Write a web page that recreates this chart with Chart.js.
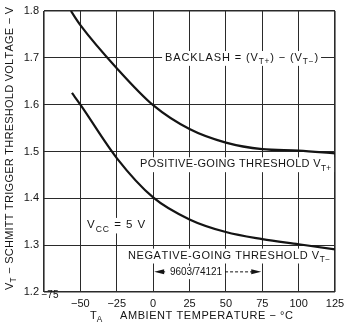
<!DOCTYPE html>
<html>
<head>
<meta charset="utf-8">
<script src="https://cdn.jsdelivr.net/npm/chart.js@4.4.1/dist/chart.umd.min.js"></script>
<style>
    html, body { margin: 0; padding: 0; background: #fff; }
    canvas { display: block; }
</style>
</head>
<body>
<canvas id="chart" width="345" height="323"></canvas>
<script>
// ---------- data ----------
const tempPos = [-56.5, -50, -25, 0, 25, 50, 75, 100, 125];
const vPos    = [1.800, 1.770, 1.678, 1.599, 1.548, 1.519, 1.505, 1.502, 1.496];

const tempNeg = [-55.8, -50, -25, 0, 25, 50, 75, 100, 125];
const vNeg    = [1.625, 1.600, 1.486, 1.402, 1.355, 1.328, 1.313, 1.302, 1.291];

const xTicks = [-75, -50, -25, 0, 25, 50, 75, 100, 125];
const yTicks = [1.2, 1.3, 1.4, 1.5, 1.6, 1.7, 1.8];

const FONT = "'Liberation Sans', Arial, sans-serif";
const INK = '#141414';

// ---------- text helpers (text with subscripts, spread to a width) ----------
function fontOf(size) { return size + 'px ' + FONT; }

function measureParts(ctx, parts, size) {
    let w = 0, n = 0;
    parts.forEach(p => {
        ctx.font = fontOf(p.sub ? size * 0.75 : size);
        for (const ch of p.t) { w += ctx.measureText(ch).width; n++; }
    });
    return { w, n };
}

function drawRich(ctx, parts, x, y, o) {
    const size = o.size || 11;
    const m = measureParts(ctx, parts, size);
    const total = o.width || m.w;
    const ls = o.width ? (o.width - m.w) / Math.max(1, m.n - 1) : 0;
    let x0 = x;
    if (o.align === 'right') x0 = x - total;
    if (o.align === 'center') x0 = x - total / 2;
    if (o.bg) {
        ctx.fillStyle = '#fff';
        ctx.fillRect(x0 - 3, y - size * 0.62, total + 6, size * 1.35);
    }
    ctx.fillStyle = INK;
    ctx.textAlign = 'left';
    ctx.textBaseline = 'middle';
    let cx = x0;
    parts.forEach(p => {
        const s = p.sub ? size * 0.75 : size;
        ctx.font = fontOf(s);
        const dy = p.sub ? size * 0.38 : 0;
        for (const ch of p.t) {
            ctx.fillText(ch, cx, y + dy);
            cx += ctx.measureText(ch).width + ls;
        }
    });
    return { x0, x1: x0 + total };
}

// annotations anchored in data units (x = °C, y = V)
const notes = [
    { parts: [{ t: 'BACKLASH = (V' }, { t: 'T+', sub: true }, { t: ') \u2212 (V' }, { t: 'T\u2212', sub: true }, { t: ')' }],
      x: 8.2, y: 1.7, align: 'left', width: 153, size: 11 },
    { parts: [{ t: 'POSITIVE-GOING THRESHOLD V' }, { t: 'T+', sub: true }],
      x: 122.3, y: 1.473, align: 'right', width: 191, size: 11 },
    { parts: [{ t: 'V' }, { t: 'CC', sub: true }, { t: ' = 5 V' }],
      x: -45.4, y: 1.343, align: 'left', width: 58, size: 11.5 },
    { parts: [{ t: 'NEGATIVE-GOING THRESHOLD V' }, { t: 'T\u2212', sub: true }],
      x: 121.6, y: 1.278, align: 'right', width: 202, size: 11 }
];

const annotate = {
    id: 'annotate',
    beforeDatasetsDraw(chart) {
        const { ctx, scales: { x, y } } = chart;
        ctx.save();
        notes.forEach(n => {
            drawRich(ctx, n.parts, x.getPixelForValue(n.x), y.getPixelForValue(n.y),
                { align: n.align, width: n.width, size: n.size, bg: true });
        });

        // 9603/74121 range arrow, 0 .. 75 °C
        const ay = y.getPixelForValue(1.243);
        const ax0 = x.getPixelForValue(0) + 1;
        const ax1 = x.getPixelForValue(75) - 1;
        const lab = drawRich(ctx, [{ t: '9603/74121' }], x.getPixelForValue(29.5), ay,
            { align: 'center', width: 52, size: 10, bg: true });
        ctx.strokeStyle = INK;
        ctx.lineWidth = 1;
        ctx.setLineDash([3, 2]);
        ctx.beginPath();
        ctx.moveTo(ax0 + 8, ay); ctx.lineTo(lab.x0 - 3, ay);
        ctx.moveTo(lab.x1 + 3, ay); ctx.lineTo(ax1 - 8, ay);
        ctx.stroke();
        ctx.setLineDash([]);
        ctx.fillStyle = INK;
        ctx.beginPath();
        ctx.moveTo(ax0, ay); ctx.lineTo(ax0 + 10, ay - 2.5); ctx.lineTo(ax0 + 10, ay + 2.5); ctx.closePath();
        ctx.moveTo(ax1, ay); ctx.lineTo(ax1 - 10, ay - 2.5); ctx.lineTo(ax1 - 10, ay + 2.5); ctx.closePath();
        ctx.fill();
        ctx.restore();
    },
    afterDraw(chart) {
        const { ctx, scales: { x, y } } = chart;
        ctx.save();
        // corner tick label -75 sits a little higher in the original
        drawRich(ctx, [{ t: '\u221275' }], x.getPixelForValue(-75) + 6, y.bottom + 3, { align: 'center', size: 10 });

        // x axis title
        drawRich(ctx, [{ t: 'T' }, { t: 'A', sub: true }], 90, 316, { size: 11 });
        drawRich(ctx, [{ t: 'AMBIENT TEMPERATURE \u2212 \u00B0C' }], 120, 316, { size: 11, width: 173 });

        // y axis title, rotated
        ctx.translate(10, 148.5);
        ctx.rotate(-Math.PI / 2);
        drawRich(ctx, [{ t: 'V' }, { t: 'T', sub: true }, { t: ' \u2212 SCHMITT TRIGGER THRESHOLD VOLTAGE \u2212 V' }],
            0, 0, { align: 'center', size: 11, width: 283 });
        ctx.restore();
    }
};

function edgeWidth(ctx) {
    const last = ctx.scale.ticks.length - 1;
    return (ctx.index === 0 || ctx.index === last) ? 1.6 : 1;
}

const chart = new Chart(document.getElementById('chart'), {
    type: 'line',
    data: {
        datasets: [
            {
                label: 'Positive-going threshold',
                data: tempPos.map((t, i) => ({ x: t, y: vPos[i] })),
                borderColor: INK,
                borderWidth: 2.2,
                pointRadius: 0,
                cubicInterpolationMode: 'monotone',
                fill: false
            },
            {
                label: 'Negative-going threshold',
                data: tempNeg.map((t, i) => ({ x: t, y: vNeg[i] })),
                borderColor: INK,
                borderWidth: 2.2,
                pointRadius: 0,
                cubicInterpolationMode: 'monotone',
                fill: false
            }
        ]
    },
    options: {
        responsive: false,
        animation: false,
        devicePixelRatio: 1,
        layout: { padding: { top: 11, right: 10, left: 0, bottom: 0 } },
        plugins: {
            legend: { display: false },
            tooltip: { enabled: false }
        },
        scales: {
            x: {
                type: 'linear',
                min: -75,
                max: 125,
                afterBuildTicks: s => { s.ticks = xTicks.map(v => ({ value: v })); },
                afterFit: s => { s.height = 31; s.paddingLeft = 0; s.paddingRight = 0; },
                grid: { color: '#2a2a2a', lineWidth: edgeWidth, drawTicks: false },
                border: { display: false },
                ticks: {
                    color: INK,
                    padding: 5,
                    maxRotation: 0,
                    font: { family: FONT, size: 11 },
                    callback: v => v === -75 ? '' : (v < 0 ? '\u2212' + Math.abs(v) : String(v))
                }
            },
            y: {
                min: 1.2,
                max: 1.8,
                afterBuildTicks: s => { s.ticks = yTicks.map(v => ({ value: v })); },
                afterFit: s => { s.width = 44; s.paddingTop = 0; s.paddingBottom = 0; },
                grid: { color: '#2a2a2a', lineWidth: edgeWidth, drawTicks: false },
                border: { display: false },
                ticks: {
                    color: INK,
                    padding: 5,
                    font: { family: FONT, size: 11 },
                    callback: v => Number(v).toFixed(1)
                }
            }
        }
    },
    plugins: [annotate]
});
</script>
</body>
</html>
